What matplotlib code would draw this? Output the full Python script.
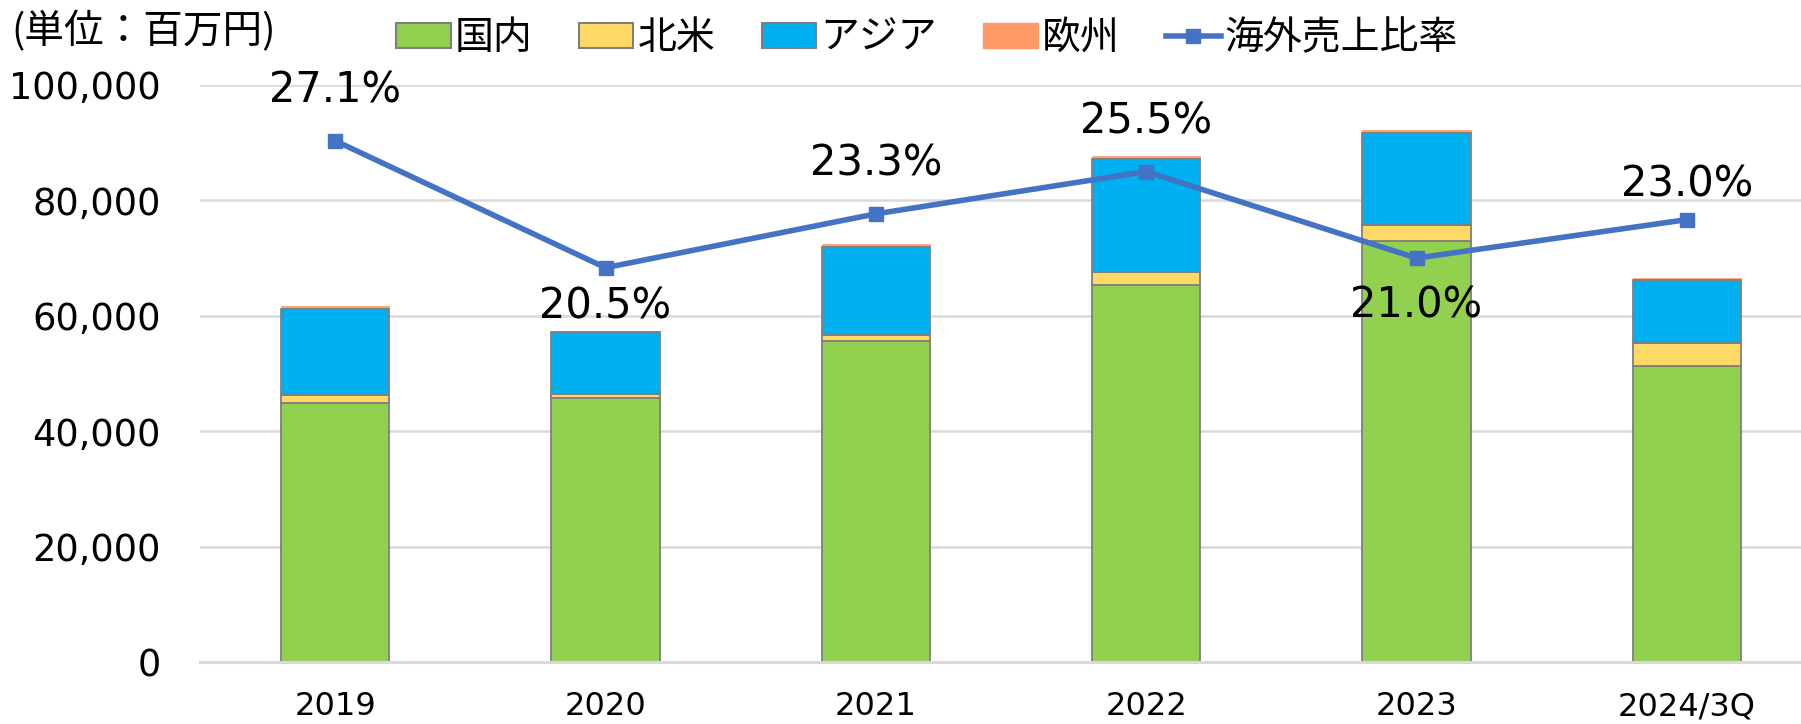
import matplotlib.pyplot as plt
from matplotlib.patches import Patch
from matplotlib.lines import Line2D
import numpy as np

plt.rcParams['font.family'] = ['DejaVu Sans', 'Noto Sans CJK JP']

# data (million yen)
years = ["2019", "2020", "2021", "2022", "2023", "2024/3Q"]
domestic = [44950, 45700, 55600, 65380, 72880, 51290]
north_america = [1270, 810, 1000, 2130, 2940, 3980]
asia = [15000, 10610, 15400, 19730, 15920, 10980]
europe = [450, 300, 400, 520, 470, 340]
overseas_ratio = [27.1, 20.5, 23.3, 25.5, 21.0, 23.0]

c_dom = "#92D050"
c_na = "#FFD966"
c_asia = "#00B0F0"
c_eu = "#FF9966"
c_line = "#4472C4"
edge = "#7F7F7F"

fig = plt.figure(figsize=(18.01, 7.24), dpi=100)
ax = fig.add_axes([200 / 1801, 1 - 662 / 724, 1 - 200 / 1801, (662 - 85) / 724])

x = np.arange(len(years))
w = 0.40
b1 = np.array(domestic)
b2 = b1 + np.array(north_america)
b3 = b2 + np.array(asia)
ax.bar(x, domestic, w, color=c_dom, edgecolor=edge, linewidth=1.3, zorder=2)
ax.bar(x, north_america, w, bottom=b1, color=c_na, edgecolor=edge, linewidth=1.3, zorder=2)
ax.bar(x, asia, w, bottom=b2, color=c_asia, edgecolor=edge, linewidth=1.3, zorder=2)
ax.bar(x, europe, w, bottom=b3, color=c_eu, edgecolor=c_eu, linewidth=0.5, zorder=1.9)

ax.set_ylim(0, 100000)
ax.set_xlim(-0.5, 5.5 - 21 / 270)
ax.set_yticks(range(0, 100001, 20000))
ax.set_yticklabels([f"{v:,}" for v in range(0, 100001, 20000)], fontsize=26.5)
ax.set_xticks(x)
ax.set_xticklabels(years, fontsize=23)
ax.tick_params(axis='y', length=0, pad=28)
ax.tick_params(axis='x', length=0, pad=21)
ax.yaxis.grid(True, color="#D9D9D9", linewidth=1.8, zorder=0)
ax.set_axisbelow(True)
for s in ["top", "right", "left"]:
    ax.spines[s].set_visible(False)
ax.spines["bottom"].set_color("#D9D9D9")
ax.spines["bottom"].set_linewidth(2.2)

# overseas ratio on hidden secondary axis
ax2 = ax.twinx()
ax2.set_ylim(0, 30)
ax2.set_axis_off()
ax2.plot(x, overseas_ratio, color=c_line, linewidth=4, marker="s", markersize=10, zorder=5)

offsets = [36, -28, 36, 36, -34, 25]
for i, v in enumerate(overseas_ratio):
    ax2.annotate(f"{v:.1f}%", (x[i], v), xytext=(0, offsets[i]), textcoords="offset points",
                 ha="center", va="center", fontsize=30, color="black", zorder=6)

fig.text(11 / 1801, 1 - 32 / 724, "(単位：百万円)", fontsize=28.5, va="center", ha="left",
         family=['Noto Sans CJK JP', 'DejaVu Sans'])

handles = [
    Patch(facecolor=c_dom, edgecolor=edge, linewidth=1.5),
    Patch(facecolor=c_na, edgecolor=edge, linewidth=1.5),
    Patch(facecolor=c_asia, edgecolor=edge, linewidth=1.5),
    Patch(facecolor=c_eu, edgecolor=c_eu),
    Line2D([], [], color=c_line, linewidth=4, marker="s", markersize=10),
]
labels = ["国内", "北米", "アジア", "欧州", "海外売上比率"]
fig.legend(handles, labels, loc="center", bbox_to_anchor=(927 / 1801, 1 - 38 / 724), ncol=5,
           frameon=False, prop={'family': ['Noto Sans CJK JP', 'DejaVu Sans'], 'size': 28},
           handlelength=1.4, handleheight=0.6, handletextpad=0.1, columnspacing=1.2,
           borderaxespad=0)

fig.savefig("out.png", dpi=100)
